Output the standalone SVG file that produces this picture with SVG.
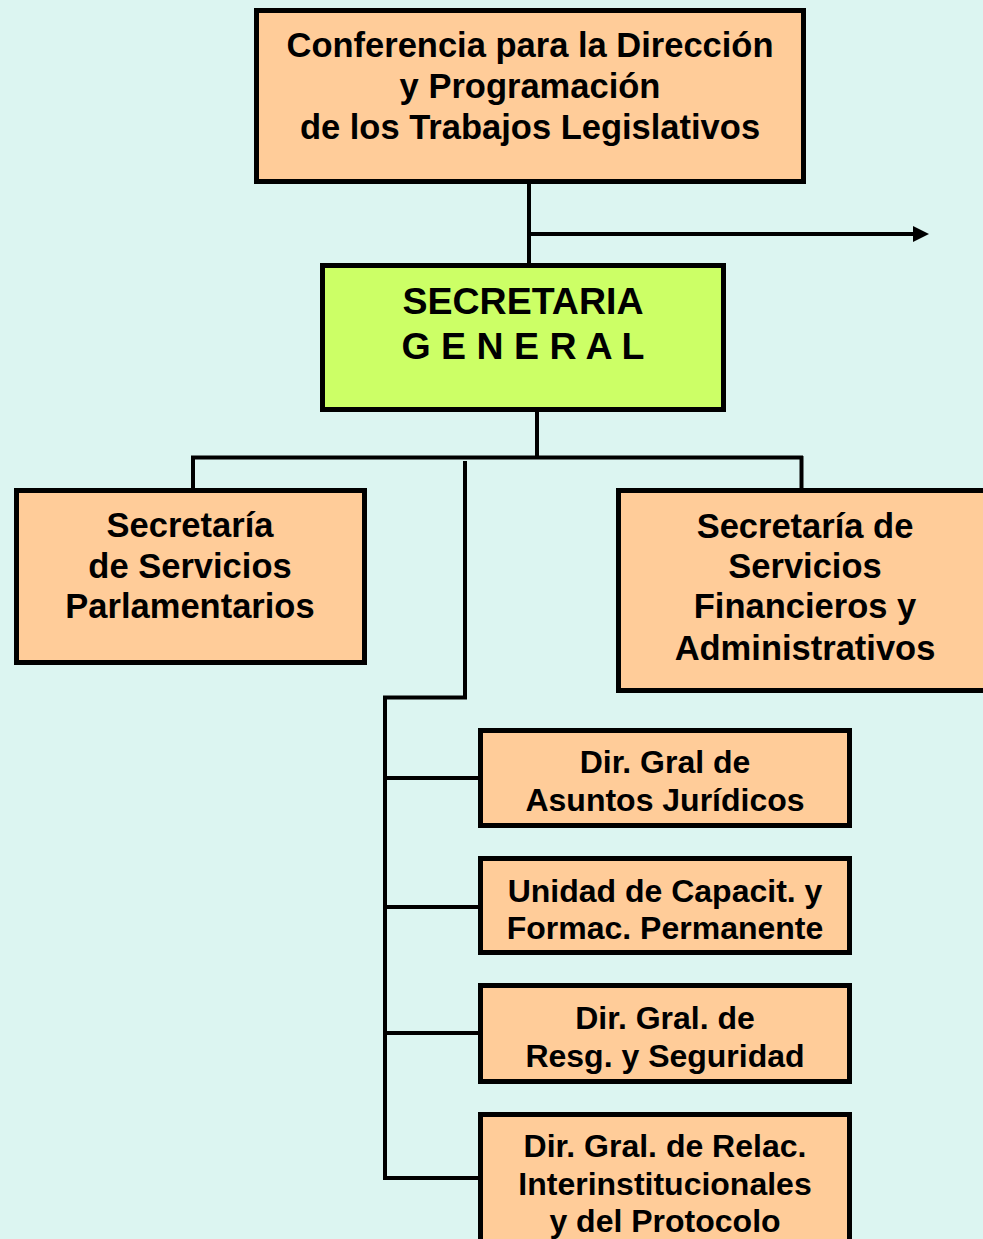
<svg xmlns="http://www.w3.org/2000/svg" width="983" height="1239" viewBox="0 0 983 1239">
<style>
.bg{fill:#DCF5F1}
.box{fill:#FFCC99;stroke:#000;stroke-width:5}
.sg{fill:#CCFF66;stroke:#000;stroke-width:5}
.ln{stroke:#000;stroke-width:4;fill:none}
text{font-family:"Liberation Sans",Arial,sans-serif;font-weight:bold;fill:#000;text-anchor:middle}
.t34{font-size:34.5px}
.t32{font-size:32px}
.t37{font-size:37.5px}
</style>
<defs>
<marker id="arr" viewBox="0 0 16 16" refX="0" refY="8" markerWidth="16" markerHeight="16" markerUnits="userSpaceOnUse" orient="auto">
<path d="M0,0 L16,8 L0,16 Z" fill="#000"/>
</marker>
</defs>
<rect class="bg" x="0" y="0" width="983" height="1239"/>
<g id="connectors">
<line class="ln" x1="529" y1="183" x2="529" y2="266"/>
<line class="ln" x1="529" y1="234" x2="913" y2="234" marker-end="url(#arr)"/>
<line class="ln" x1="537" y1="410" x2="537" y2="458"/>
<line class="ln" x1="191" y1="457.5" x2="803" y2="457.5"/>
<line class="ln" x1="193" y1="456" x2="193" y2="490"/>
<line class="ln" x1="801.5" y1="456" x2="801.5" y2="490"/>
<polyline class="ln" points="465,461 465,697.5 385,697.5 385,1180"/>
<line class="ln" x1="383" y1="778" x2="480" y2="778"/>
<line class="ln" x1="383" y1="907" x2="480" y2="907"/>
<line class="ln" x1="383" y1="1033" x2="480" y2="1033"/>
<line class="ln" x1="383" y1="1178" x2="480" y2="1178"/>
</g>
<g id="conferencia">
<rect class="box" x="256.5" y="10.5" width="547" height="171"/>
<text class="t34" x="530" y="57">Conferencia para la Dirección</text>
<text class="t34" x="530" y="98">y Programación</text>
<text class="t34" x="530" y="139">de los Trabajos Legislativos</text>
</g>
<g id="secretaria-general">
<rect class="sg" x="322.5" y="265.5" width="401" height="144"/>
<text class="t37" x="523" y="314">SECRETARIA</text>
<text class="t37" x="523" y="359">G E N E R A L</text>
</g>
<g id="sec-parlamentarios">
<rect class="box" x="16.5" y="490.5" width="348" height="172"/>
<text class="t34" x="190" y="537">Secretaría</text>
<text class="t34" x="190" y="578">de Servicios</text>
<text class="t34" x="190" y="618">Parlamentarios</text>
</g>
<g id="sec-financieros">
<rect class="box" x="618.5" y="490.5" width="400" height="200"/>
<text class="t34" x="805" y="538">Secretaría de</text>
<text class="t34" x="805" y="578">Servicios</text>
<text class="t34" x="805" y="618">Financieros y</text>
<text class="t34" x="805" y="660">Administrativos</text>
</g>
<g id="dir-juridicos">
<rect class="box" x="480.5" y="730.5" width="369" height="95"/>
<text class="t32" x="665" y="773">Dir. Gral de</text>
<text class="t32" x="665" y="811">Asuntos Jurídicos</text>
</g>
<g id="unidad-capacitacion">
<rect class="box" x="480.5" y="858.5" width="369" height="94"/>
<text class="t32" x="665" y="902">Unidad de Capacit. y</text>
<text class="t32" x="665" y="939">Formac. Permanente</text>
</g>
<g id="dir-seguridad">
<rect class="box" x="480.5" y="985.5" width="369" height="96"/>
<text class="t32" x="665" y="1029">Dir. Gral. de</text>
<text class="t32" x="665" y="1067">Resg. y Seguridad</text>
</g>
<g id="dir-relaciones">
<rect class="box" x="480.5" y="1114.5" width="369" height="200"/>
<text class="t32" x="665" y="1157">Dir. Gral. de Relac.</text>
<text class="t32" x="665" y="1195">Interinstitucionales</text>
<text class="t32" x="665" y="1232">y del Protocolo</text>
</g>
</svg>
